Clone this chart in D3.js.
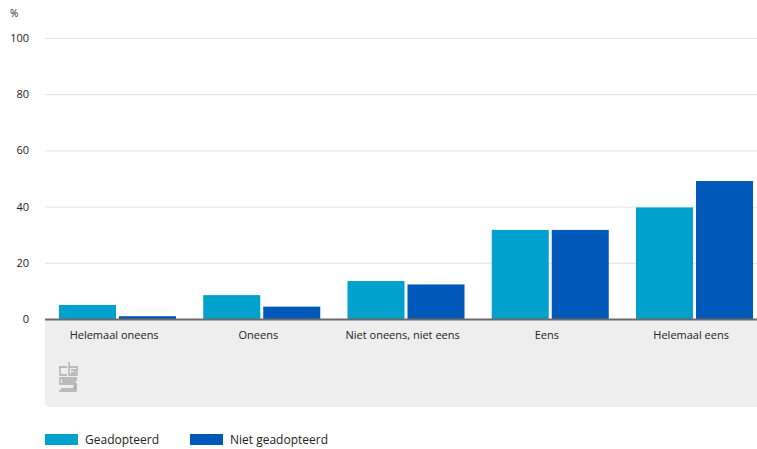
<!DOCTYPE html>
<html>
<head>
<meta charset="utf-8">
<script src="https://cdn.jsdelivr.net/npm/d3@7"></script>
<style>
  html, body { margin: 0; padding: 0; background: #fff; }
  svg { display: block; font-family: "Open Sans", "Noto Sans", sans-serif; }
</style>
</head>
<body>
<svg id="chart" width="757" height="449"></svg>
<script>
const categories = ["Helemaal oneens", "Oneens", "Niet oneens, niet eens", "Eens", "Helemaal eens"];
const seriesNames = ["Geadopteerd", "Niet geadopteerd"];
const geadopteerd = [5, 8.5, 13.5, 31.7, 39.7];
const nietGeadopteerd = [1, 4.4, 12.3, 31.7, 49.1];
const yTicks = [0, 20, 40, 60, 80, 100];
const colors = ["#00a1cd", "#0058b8"];

(function () {
const svg = d3.select("#chart");
const W = 757;
const mLeft = 45, mTop = 38, mBottom = 319;

const x0 = d3.scaleBand().domain(categories).range([mLeft, mLeft + 5 * 144.25]).padding(0);
const x1 = d3.scaleBand().domain(seriesNames).range([14, 131]).paddingInner(0.05);
const y = d3.scaleLinear().domain([0, 100]).range([mBottom, mTop]);

// grey footer panel
const panelBottom = 407, r = 5;
svg.append("path")
  .attr("d", `M${mLeft},${mBottom} H${W} V${panelBottom} H${mLeft + r} Q${mLeft},${panelBottom} ${mLeft},${panelBottom - r} Z`)
  .attr("fill", "#eeeeee");

// gridlines
svg.append("g").selectAll("line").data(yTicks.filter(d => d > 0)).join("line")
  .attr("x1", mLeft).attr("x2", W)
  .attr("y1", d => y(d) + 0.5).attr("y2", d => y(d) + 0.5)
  .attr("stroke", "#e2e2e2").attr("stroke-width", 1);

// y axis labels
const yAxis = d3.axisLeft(y).tickValues(yTicks).tickSize(0).tickPadding(0);
const gy = svg.append("g").attr("transform", `translate(29,0)`).call(yAxis)
  .attr("color", "#222").attr("font-family", "'Open Sans', sans-serif").attr("font-size", 11);
gy.select(".domain").remove();
gy.selectAll("text").attr("fill", "#222").attr("font-weight", 500);

svg.append("text").attr("x", 10).attr("y", 17).text("%")
  .attr("font-size", 10).attr("fill", "#222");

// bars
const data = categories.map((c, i) => ({ cat: c, vals: [geadopteerd[i], nietGeadopteerd[i]] }));
const groups = svg.append("g").selectAll("g").data(data).join("g")
  .attr("transform", d => `translate(${x0(d.cat)},0)`);
groups.selectAll("rect").data(d => d.vals.map((v, j) => ({ s: seriesNames[j], v, j }))).join("rect")
  .attr("x", d => x1(d.s))
  .attr("width", x1.bandwidth())
  .attr("y", d => y(d.v))
  .attr("height", d => y(0) - y(d.v))
  .attr("fill", d => colors[d.j]);

// baseline
svg.append("line").attr("x1", mLeft).attr("x2", W)
  .attr("y1", mBottom + 0.5).attr("y2", mBottom + 0.5)
  .attr("stroke", "#6b6b6b").attr("stroke-width", 2);

// x labels
const xAxis = d3.axisBottom(x0).tickSize(0).tickPadding(0);
const gx = svg.append("g").attr("transform", `translate(0,${mBottom + 12})`).call(xAxis)
  .attr("color", "#222").attr("font-family", "'Open Sans', sans-serif").attr("font-size", 11);
gx.select(".domain").remove();
gx.selectAll("text").attr("fill", "#222").attr("font-weight", 500).attr("dx", -3);

// CBS logo approximation
const logo = svg.append("g").attr("transform", "translate(59,362)")
  .attr("fill", "none").attr("stroke", "#aaaaaa").attr("stroke-width", 1.3);
logo.append("path").attr("d", "M0,5 H8 M1,5 V13 H8 M10,0 V13 H18 V5 H10");
logo.append("path").attr("d", "M12,8 H16 V11 H12");
logo.append("path").attr("d", "M18,16 H1 V22 H17 V29 H0 M3,18 H18 M15,24 V27 M3,20 H16 V27 H2");

// legend
const legend = svg.append("g").attr("transform", "translate(45,434)");
const items = legend.selectAll("g").data(seriesNames).join("g")
  .attr("transform", (d, i) => `translate(${i === 0 ? 0 : 145},0)`);
items.append("rect").attr("width", 33).attr("height", 11).attr("fill", (d, i) => colors[i]);
items.append("text").attr("x", 40).attr("y", 10).text(d => d)
  .attr("font-size", 12).attr("fill", "#222");
})();
</script>
</body>
</html>
